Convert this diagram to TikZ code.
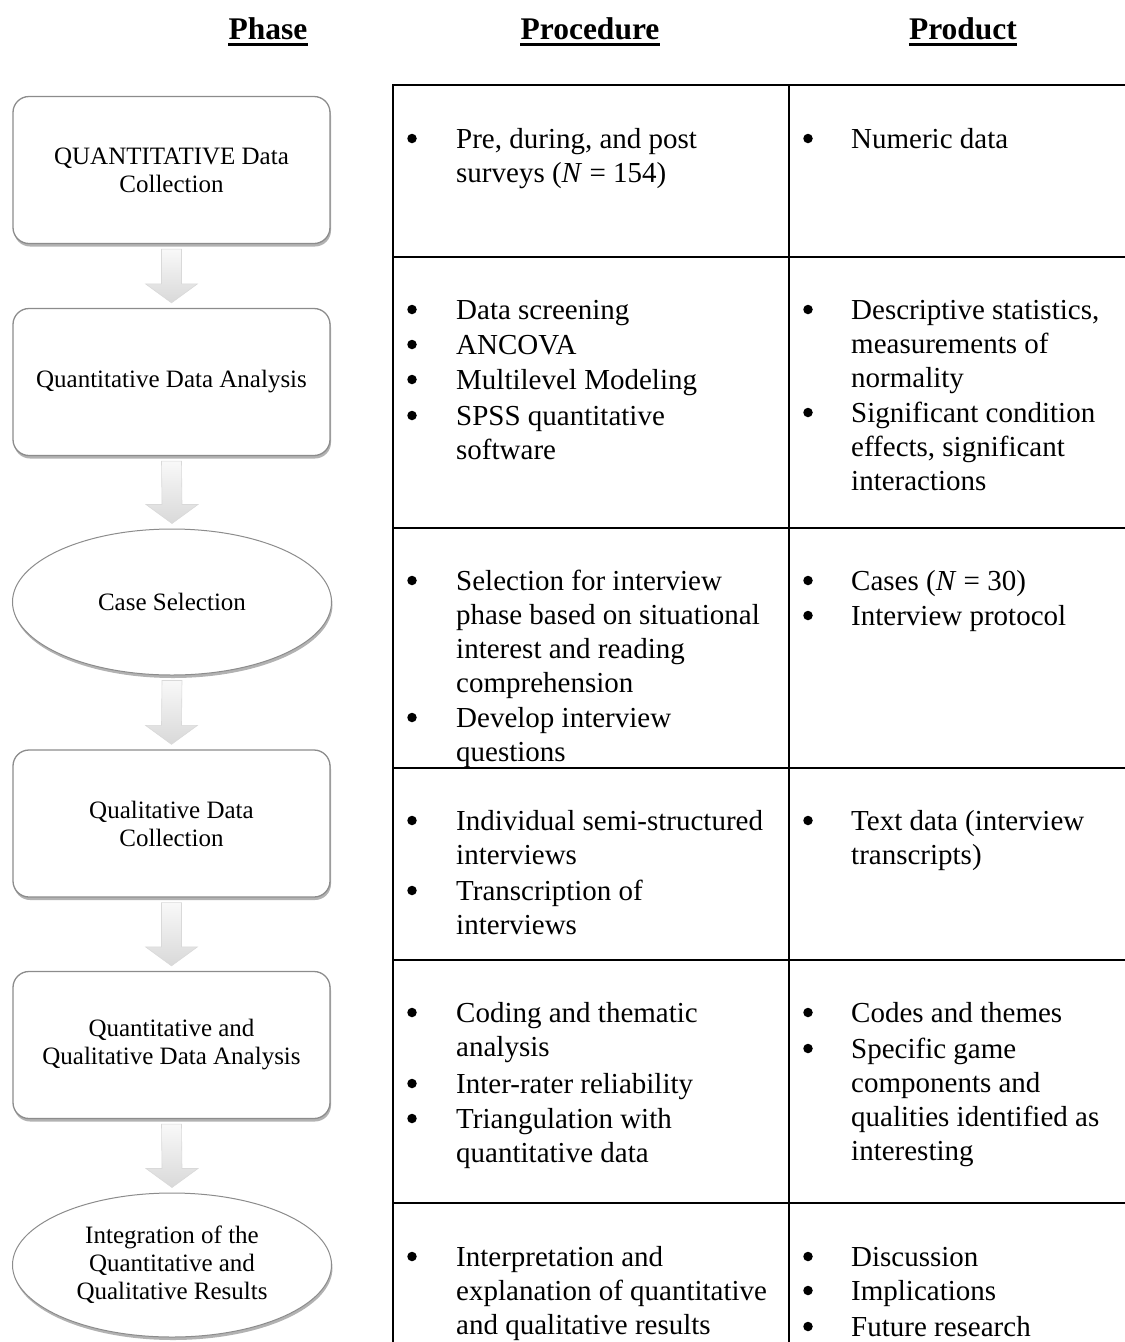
\documentclass[tikz,border=0pt]{standalone}
\usepackage{fontspec}
\setmainfont{Liberation Serif}
\usetikzlibrary{shapes.geometric,shadows,calc}
\definecolor{boxline}{RGB}{140,140,140}
\newcommand\topst{\rule{0pt}{24pt}}
\newcommand\phasearrow[2]{%
  \shade[top color=gray!5, bottom color=gray!30, draw=gray!30, line width=0.6pt]
    ($(#1.south)+(-10,5)$) -- ($(#1.south)+(10,5)$) -- ($(#2.north)+(10,-24)$) --
    ($(#2.north)+(26,-24)$) -- ($(#2.north)+(0,-5)$) -- ($(#2.north)+(-26,-24)$) --
    ($(#2.north)+(-10,-24)$) -- cycle;}
\begin{document}
\begin{tikzpicture}[x=1pt,y=-1pt,
  phasebox/.style={draw=boxline, line width=1.3pt, fill=white, rounded corners=16pt,
    minimum width=317pt, minimum height=147pt, align=center, inner sep=0pt,
    font=\fontsize{25}{28}\selectfont,
    drop shadow={shadow xshift=1pt, shadow yshift=-3pt, opacity=0.3, fill=black}},
  phaseoval/.style={ellipse, draw=boxline, line width=1pt, fill=white,
    minimum width=319pt, minimum height=146pt, align=center, inner sep=0pt,
    font=\fontsize{25}{28}\selectfont,
    drop shadow={shadow xshift=1pt, shadow yshift=-3pt, opacity=0.3, fill=black}},
  colhead/.style={font=\fontsize{31.5}{36}\selectfont\bfseries, inner sep=0pt, anchor=base},
  cellt/.style={anchor=north west, align=left, inner sep=0pt, font=\fontsize{29}{34}\selectfont},
  bul/.style={circle, fill=black, inner sep=0pt, minimum size=9.5pt, anchor=center, yshift=9.5pt},
  gridline/.style={line width=2.5pt, line cap=butt}]
\useasboundingbox (0,0) rectangle (1125,1342);

% headers
\node[colhead] (hph) at (268,39) {Phase};
\node[colhead] (hpr) at (590,39) {Procedure};
\node[colhead] (hpd) at (963,39) {Product};
\foreach \h in {hph,hpr,hpd}
  \draw[line width=3pt] ([yshift=-5pt]\h.base west) -- ([yshift=-5pt]\h.base east);

% table grid
\draw[gridline] (1125,85) -- (393,85) -- (393,1342);
\draw[gridline] (789,85) -- (789,1342);
\foreach \yy in {257,528,768,960,1203}
  \draw[gridline] (393,\yy) -- (1125,\yy);

% phase shapes
\node[phasebox] (q1) at (171.5,170) {QUANTITATIVE Data\\Collection};
\node[phasebox] (q2) at (171.5,382) {Quantitative Data Analysis};
\node[phaseoval] (q3) at (172,602) {Case Selection};
\node[phasebox] (q4) at (171.5,823.5) {Qualitative Data\\Collection};
\node[phasebox] (q5) at (171.5,1045) {Quantitative and\\Qualitative Data Analysis};
\node[phaseoval, minimum height=144pt] (q6) at (172,1265) {Integration of the\\Quantitative and\\Qualitative Results};

% arrows
\phasearrow{q1}{q2}
\phasearrow{q2}{q3}
\phasearrow{q3}{q4}
\phasearrow{q4}{q5}
\phasearrow{q5}{q6}

% procedure column
\node[bul] (pb1) at (412,148) {};
\node[cellt] (pt1) at (456,124) {\topst Pre, during, and post\\surveys (\textit{N} = 154)};

\node[bul] (pb2a) at (412,319) {};
\node[cellt] (pt2a) at (456,295) {\topst Data screening};
\node[bul] (pb2b) at (412,354) {};
\node[cellt] (pt2b) at (456,330) {\topst ANCOVA};
\node[bul] (pb2c) at (412,389) {};
\node[cellt] (pt2c) at (456,365) {\topst Multilevel Modeling};
\node[bul] (pb2d) at (412,425) {};
\node[cellt] (pt2d) at (456,401) {\topst SPSS quantitative\\software};

\node[bul] (pb3a) at (412,590) {};
\node[cellt] (pt3a) at (456,566) {\topst Selection for interview\\phase based on situational\\interest and reading\\comprehension};
\node[bul] (pb3b) at (412,727) {};
\node[cellt] (pt3b) at (456,703) {\topst Develop interview\\questions};

\node[bul] (pb4a) at (412,830) {};
\node[cellt] (pt4a) at (456,806) {\topst Individual semi-structured\\interviews};
\node[bul] (pb4b) at (412,900) {};
\node[cellt] (pt4b) at (456,876) {\topst Transcription of\\interviews};

\node[bul] (pb5a) at (412,1022) {};
\node[cellt] (pt5a) at (456,998) {\topst Coding and thematic\\analysis};
\node[bul] (pb5b) at (412,1093) {};
\node[cellt] (pt5b) at (456,1069) {\topst Inter-rater reliability};
\node[bul] (pb5c) at (412,1128) {};
\node[cellt] (pt5c) at (456,1104) {\topst Triangulation with\\quantitative data};

\node[bul] (pb6) at (412,1266) {};
\node[cellt] (pt6) at (456,1242) {\topst Interpretation and\\explanation of quantitative\\and qualitative results};

% product column
\node[bul] (db1) at (808,148) {};
\node[cellt] (dt1) at (851,124) {\topst Numeric data};

\node[bul] (db2a) at (808,319) {};
\node[cellt] (dt2a) at (851,295) {\topst Descriptive statistics,\\measurements of\\normality};
\node[bul] (db2b) at (808,422) {};
\node[cellt] (dt2b) at (851,398) {\topst Significant condition\\effects, significant\\interactions};

\node[bul] (db3a) at (808,590) {};
\node[cellt] (dt3a) at (851,566) {\topst Cases (\textit{N} = 30)};
\node[bul] (db3b) at (808,625) {};
\node[cellt] (dt3b) at (851,601) {\topst Interview protocol};

\node[bul] (db4) at (808,830) {};
\node[cellt] (dt4) at (851,806) {\topst Text data (interview\\transcripts)};

\node[bul] (db5a) at (808,1022) {};
\node[cellt] (dt5a) at (851,998) {\topst Codes and themes};
\node[bul] (db5b) at (808,1058) {};
\node[cellt] (dt5b) at (851,1034) {\topst Specific game\\components and\\qualities identified as\\interesting};

\node[bul] (db6a) at (808,1266) {};
\node[cellt] (dt6a) at (851,1242) {\topst Discussion};
\node[bul] (db6b) at (808,1300) {};
\node[cellt] (dt6b) at (851,1276) {\topst Implications};
\node[bul] (db6c) at (808,1336) {};
\node[cellt] (dt6c) at (851,1312) {\topst Future research};
\end{tikzpicture}
\end{document}
